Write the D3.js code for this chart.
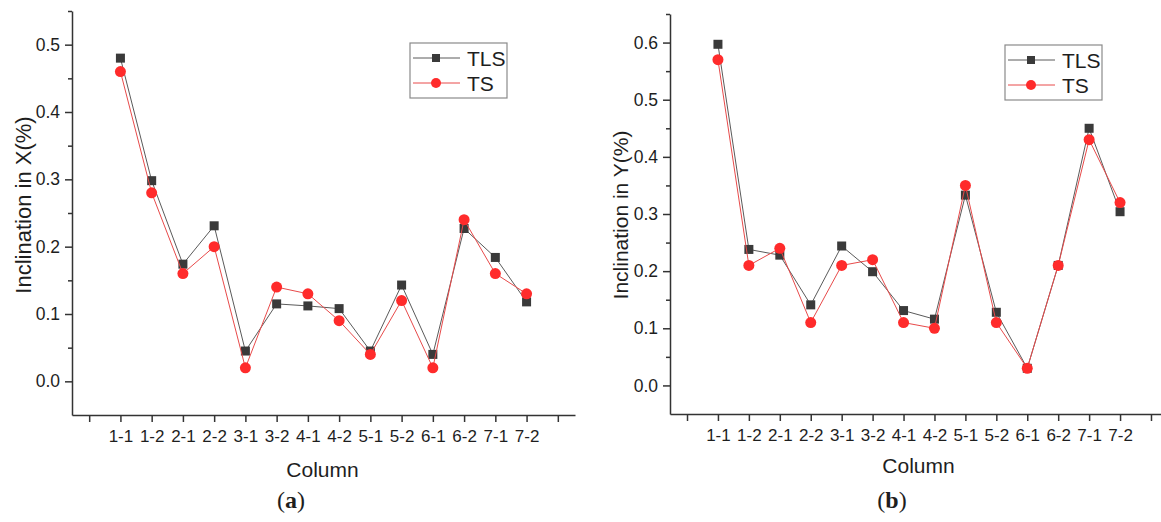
<!DOCTYPE html>
<html>
<head>
<meta charset="utf-8">
<script src="https://cdn.jsdelivr.net/npm/d3@7"></script>
<style>
  html, body { margin: 0; padding: 0; background: #fff; }
  svg { display: block; }
  text { font-family: "Liberation Sans", Arial, sans-serif; fill: #1e1e1e; }
</style>
</head>
<body>
<svg id="chart" width="1161" height="522"></svg>
<script>
// ---- data ----
const categories = ["1-1","1-2","2-1","2-2","3-1","3-2","4-1","4-2","5-1","5-2","6-1","6-2","7-1","7-2"];
const tlsX = [0.480, 0.298, 0.174, 0.231, 0.045, 0.115, 0.112, 0.108, 0.045, 0.143, 0.040, 0.227, 0.184, 0.118];
const tsX  = [0.460, 0.280, 0.160, 0.200, 0.020, 0.140, 0.130, 0.090, 0.040, 0.120, 0.020, 0.240, 0.160, 0.130];
const tlsY = [0.597, 0.238, 0.228, 0.141, 0.244, 0.199, 0.131, 0.116, 0.333, 0.128, 0.030, 0.210, 0.450, 0.304];
const tsY  = [0.570, 0.210, 0.240, 0.110, 0.210, 0.220, 0.110, 0.100, 0.350, 0.110, 0.030, 0.210, 0.430, 0.320];
const seriesNames = ["TLS", "TS"];
const yTicksA = [0.0, 0.1, 0.2, 0.3, 0.4, 0.5];
const yMinorA = [0.05, 0.15, 0.25, 0.35, 0.45, 0.55];
const yTicksB = [0.0, 0.1, 0.2, 0.3, 0.4, 0.5, 0.6];
const yMinorB = [0.05, 0.15, 0.25, 0.35, 0.45, 0.55, 0.65];
const xTickPositions = d3.range(0, 16); // 0 and 15 are empty ticks

const svg = d3.select("#chart");
svg.append("rect").attr("width", 1161).attr("height", 522).attr("fill", "#fff");

const TLS_COLOR = "#3a3a3a", TLS_LINE = "#5a5a5a";
const TS_COLOR = "#ff2b2b", TS_LINE = "#e84a4a";
const AXIS_COLOR = "#333";

function drawPanel(cfg) {
  const g = svg.append("g");
  const x = d3.scaleLinear().domain([-0.55, 15.55]).range(cfg.xRange);
  const y = d3.scaleLinear().domain(cfg.yDomain).range(cfg.yRange);

  // x axis
  const xAxis = d3.axisBottom(x).tickValues(xTickPositions)
    .tickFormat(i => (i >= 1 && i <= categories.length) ? categories[i - 1] : "")
    .tickSizeInner(7).tickSizeOuter(0).tickPadding(8);
  const gx = g.append("g").attr("transform", `translate(0,${cfg.yRange[0]})`).call(xAxis);
  gx.selectAll("text").attr("font-size", 17).attr("fill", "#1e1e1e")
    .attr("font-family", '"Liberation Sans", Arial, sans-serif');

  // y axis
  const yAxis = d3.axisLeft(y).tickValues(cfg.yTicks).tickFormat(d3.format(".1f"))
    .tickSizeInner(7).tickSizeOuter(0).tickPadding(5);
  const gy = g.append("g").attr("transform", `translate(${cfg.xRange[0]},0)`).call(yAxis);
  gy.selectAll("text").attr("font-size", 17.5).attr("fill", "#1e1e1e")
    .attr("font-family", '"Liberation Sans", Arial, sans-serif');
  const yMinor = d3.axisLeft(y).tickValues(cfg.yMinor).tickFormat("").tickSizeInner(4).tickSizeOuter(0);
  const gym = g.append("g").attr("transform", `translate(${cfg.xRange[0]},0)`).call(yMinor);
  gym.select(".domain").remove();

  [gx, gy, gym].forEach(a => {
    a.selectAll("path, line").attr("stroke", AXIS_COLOR).attr("stroke-width", 1.5);
  });

  // axis titles
  g.append("text").attr("x", d3.mean(cfg.titleXRange)).attr("y", cfg.xTitleY)
    .attr("text-anchor", "middle").attr("font-size", 21).text("Column");
  g.append("text").attr("transform", `translate(${cfg.yTitleX},${cfg.yTitleY}) rotate(-90)`)
    .attr("text-anchor", "middle").attr("font-size", cfg.yTitleSize).text(cfg.yTitle);

  // panel label
  const lab = g.append("text").attr("x", cfg.labelX).attr("y", 508).attr("text-anchor", "middle")
    .attr("font-size", 24).style("font-family", '"Liberation Serif", "Times New Roman", serif');
  lab.append("tspan").text("(");
  lab.append("tspan").attr("font-weight", "bold").text(cfg.label);
  lab.append("tspan").text(")");

  const line = d3.line().x((d, i) => x(i + 1)).y(d => y(d));

  // TLS series
  g.append("path").datum(cfg.tls).attr("d", line).attr("fill", "none")
    .attr("stroke", TLS_LINE).attr("stroke-width", 1);
  g.append("g").selectAll("rect").data(cfg.tls).join("rect")
    .attr("x", (d, i) => x(i + 1) - 4.5).attr("y", d => y(d) - 4.5)
    .attr("width", 9).attr("height", 9).attr("fill", TLS_COLOR);

  // TS series
  g.append("path").datum(cfg.ts).attr("d", line).attr("fill", "none")
    .attr("stroke", TS_LINE).attr("stroke-width", 1);
  g.append("g").selectAll("circle").data(cfg.ts).join("circle")
    .attr("cx", (d, i) => x(i + 1)).attr("cy", d => y(d))
    .attr("r", 5.5).attr("fill", TS_COLOR);

  // legend
  const L = cfg.legend;
  const lg = g.append("g").attr("transform", `translate(${L.x},${L.y})`);
  lg.append("rect").attr("width", 97).attr("height", 55).attr("fill", "#fff")
    .attr("stroke", "#8a8a8a").attr("stroke-width", 1.2);
  const rows = [
    { name: seriesNames[0], dy: 15, line: TLS_LINE, marker: "square" },
    { name: seriesNames[1], dy: 40, line: TS_LINE, marker: "circle" }
  ];
  rows.forEach(r => {
    lg.append("line").attr("x1", 3).attr("x2", 50).attr("y1", r.dy).attr("y2", r.dy)
      .attr("stroke", r.line).attr("stroke-width", 1);
    if (r.marker === "square") {
      lg.append("rect").attr("x", 26 - 4).attr("y", r.dy - 4).attr("width", 8).attr("height", 8)
        .attr("fill", TLS_COLOR);
    } else {
      lg.append("circle").attr("cx", 26).attr("cy", r.dy).attr("r", 5).attr("fill", TS_COLOR);
    }
    lg.append("text").attr("x", 57).attr("y", r.dy + 7.5).attr("font-size", 21).text(r.name);
  });
}

drawPanel({
  xRange: [72, 575], yDomain: [-0.05, 0.55], yRange: [415, 11],
  yTicks: yTicksA, yMinor: yMinorA, tls: tlsX, ts: tsX,
  titleXRange: [287, 358], xTitleY: 477,
  yTitle: "Inclination in X(%)", yTitleX: 31, yTitleY: 205, yTitleSize: 22,
  label: "a", labelX: 291,
  legend: { x: 410, y: 43 }
});

drawPanel({
  xRange: [670, 1168], yDomain: [-0.05, 0.65], yRange: [414, 14],
  yTicks: yTicksB, yMinor: yMinorB, tls: tlsY, ts: tsY,
  titleXRange: [883, 954], xTitleY: 473,
  yTitle: "Inclination in Y(%)", yTitleX: 628, yTitleY: 215, yTitleSize: 21,
  label: "b", labelX: 892,
  legend: { x: 1005, y: 45 }
});
</script>
</body>
</html>
